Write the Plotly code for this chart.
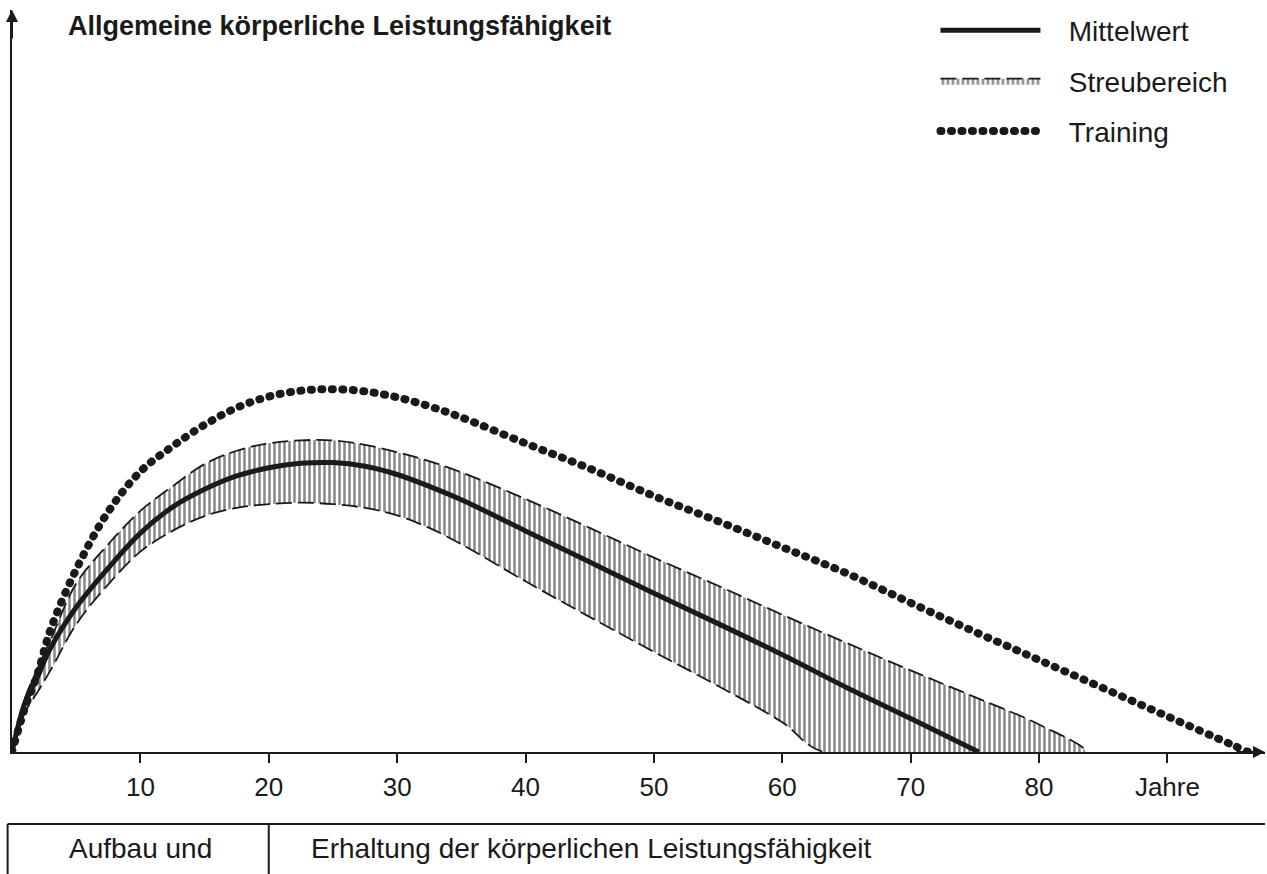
import plotly.graph_objects as go

# ---- data (relative performance, 0..100 = height of the y axis) ----
mean_age = [0, 1, 2, 3, 5, 7.5, 10, 12.5, 15, 17.5, 20, 22.5, 25, 27.5, 30, 32.5, 35, 40, 45, 50, 55, 60, 65, 70, 75.3]
mean_val = [0, 6.6, 10.2, 14.0, 19.5, 24.8, 29.5, 33.0, 35.4, 37.2, 38.3, 38.9, 39.0, 38.5, 37.4, 35.8, 34.0, 29.8, 25.6, 21.4, 17.3, 13.1, 8.7, 4.5, 0]

upper_age = [0, 1, 2, 3, 5, 7.5, 10, 12.5, 15, 17.5, 20, 22.5, 25, 27.5, 30, 32.5, 35, 40, 45, 50, 55, 60, 65, 70, 75, 80, 83.6]
upper_val = [0, 7.2, 11.3, 15.1, 22.7, 28.0, 32.5, 35.8, 38.8, 40.6, 41.6, 42.0, 42.0, 41.4, 40.4, 39.2, 37.7, 34.1, 30.2, 26.2, 22.4, 18.5, 14.7, 11.0, 7.4, 3.7, 0]

lower_age = [0, 1, 2, 3, 5, 7.5, 10, 12.5, 15, 17.5, 20, 22.5, 25, 27.5, 30, 32.5, 35, 40, 45, 50, 55, 60, 63.2]
lower_val = [0, 5.3, 8.1, 11.0, 17.2, 22.6, 27.0, 29.8, 31.8, 32.9, 33.4, 33.6, 33.4, 32.9, 31.9, 30.2, 28.0, 23.0, 18.2, 13.5, 8.9, 4.0, 0]

train_age = [0, 1, 2, 3, 5, 7.5, 10, 12.5, 15, 17.5, 20, 22.5, 25, 27.5, 30, 32.5, 35, 40, 45, 50, 55, 60, 65, 70, 75, 80, 85, 90, 95, 96.3]
train_val = [0, 5.9, 10.6, 16.5, 24.6, 32.4, 37.8, 41.2, 44.1, 46.4, 47.9, 48.7, 48.9, 48.6, 47.8, 46.6, 45.1, 41.6, 38.2, 34.5, 31.1, 27.6, 24.1, 20.1, 16.2, 12.4, 8.6, 4.8, 1.0, 0]

tick_vals = [10, 20, 30, 40, 50, 60, 70, 80, 90]
tick_text = ["10", "20", "30", "40", "50", "60", "70", "80", "Jahre"]

title_text = "Allgemeine körperliche Leistungsfähigkeit"
names = ["Mittelwert", "Streubereich", "Training"]
phase_left = "Aufbau und"
phase_right = "Erhaltung der körperlichen Leistungsfähigkeit"
phase_split = 20

FONT = "Liberation Sans, Arial, sans-serif"
INK = "#1a1a1a"
PAD = "\u00a0\u00a0\u00a0"

fig = go.Figure()

band_x = upper_age + lower_age[::-1]
band_y = upper_val + lower_val[::-1]
fig.add_trace(go.Scatter(
    x=band_x, y=band_y, mode="lines", fill="toself", name=PAD + names[1],
    line=dict(color=INK, width=1.8, dash="16px,6px", shape="spline", smoothing=1.0),
    fillcolor="rgba(0,0,0,0)",
    fillpattern=dict(shape="|", size=5, solidity=0.5, fgcolor="#111111", bgcolor="rgba(0,0,0,0)"),
    legendrank=2, legendgroup="b",
))
fig.add_trace(go.Scatter(
    x=mean_age, y=mean_val, mode="lines", name=PAD + names[0],
    line=dict(color=INK, width=5, shape="spline", smoothing=1.0),
    legendrank=1, legendgroup="a",
))
fig.add_trace(go.Scatter(
    x=train_age, y=train_val, mode="lines", name=PAD + names[2],
    line=dict(color=INK, width=8, dash="1px,9.5px", shape="spline", smoothing=1.0),
    legendrank=3, legendgroup="c",
))

fig.update_layout(
    width=1267, height=874,
    margin=dict(l=12, r=2, t=10, b=122),
    paper_bgcolor="white", plot_bgcolor="white",
    font=dict(family=FONT, color=INK, size=26),
    showlegend=True,
    legend=dict(x=0.737, y=1.006, xanchor="left", yanchor="top",
                font=dict(size=28, family=FONT, color=INK),
                itemwidth=100, tracegroupgap=11, bgcolor="rgba(0,0,0,0)"),
    xaxis=dict(range=[0, 97.6], showgrid=False, zeroline=False,
               showline=True, linecolor=INK, linewidth=2,
               tickmode="array", tickvals=tick_vals, ticktext=tick_text,
               ticks="outside", ticklen=9, tickwidth=2, tickcolor=INK,
               tickfont=dict(size=26, family=FONT, color=INK), ticklabelstandoff=2),
    yaxis=dict(range=[0, 100], showgrid=False, zeroline=False,
               showline=True, linecolor=INK, linewidth=2,
               showticklabels=False, ticks=""),
)

# axis arrowheads
fig.add_annotation(xref="paper", yref="paper", x=1.0, y=0, ax=-30, ay=0,
                   axref="pixel", ayref="pixel", showarrow=True, arrowhead=2,
                   arrowsize=1.2, arrowwidth=2, arrowcolor=INK, text="")
fig.add_annotation(xref="paper", yref="paper", x=0, y=1.0, ax=0, ay=30,
                   axref="pixel", ayref="pixel", showarrow=True, arrowhead=2,
                   arrowsize=1.2, arrowwidth=2, arrowcolor=INK, text="")

# title
fig.add_annotation(xref="paper", yref="paper", x=0.043, y=0.978, xanchor="left", yanchor="middle",
                   text="<b>" + title_text + "</b>", showarrow=False,
                   font=dict(size=27, family=FONT, color=INK))

# bottom phase table
TL = -0.097
fig.add_shape(type="line", xref="paper", yref="paper", x0=-0.0035, x1=1.0, y0=TL, y1=TL,
              line=dict(color=INK, width=2))
fig.add_shape(type="line", xref="paper", yref="paper", x0=-0.0035, x1=-0.0035, y0=TL, y1=-0.2,
              line=dict(color=INK, width=2))
fig.add_shape(type="line", xref="x", yref="paper", x0=phase_split, x1=phase_split, y0=TL, y1=-0.2,
              line=dict(color=INK, width=2))
fig.add_annotation(xref="x", yref="paper", x=phase_split / 2, y=-0.1307, text=phase_left,
                   showarrow=False, xanchor="center", yanchor="middle",
                   font=dict(size=28, family=FONT, color=INK))
fig.add_annotation(xref="x", yref="paper", x=phase_split + 3.1, y=-0.1307, text=phase_right,
                   showarrow=False, xanchor="left", yanchor="middle",
                   font=dict(size=28, family=FONT, color=INK))

post = """
document.body.style.margin = '0';
document.body.style.overflow = 'hidden';
document.querySelectorAll('path').forEach(function(p){
  var d = (p.style.strokeDasharray || '');
  if (d.indexOf('1px') === 0) { p.style.strokeLinecap = 'round'; }
});
"""
fig.write_html("out.html", post_script=post, config={"displayModeBar": False})
